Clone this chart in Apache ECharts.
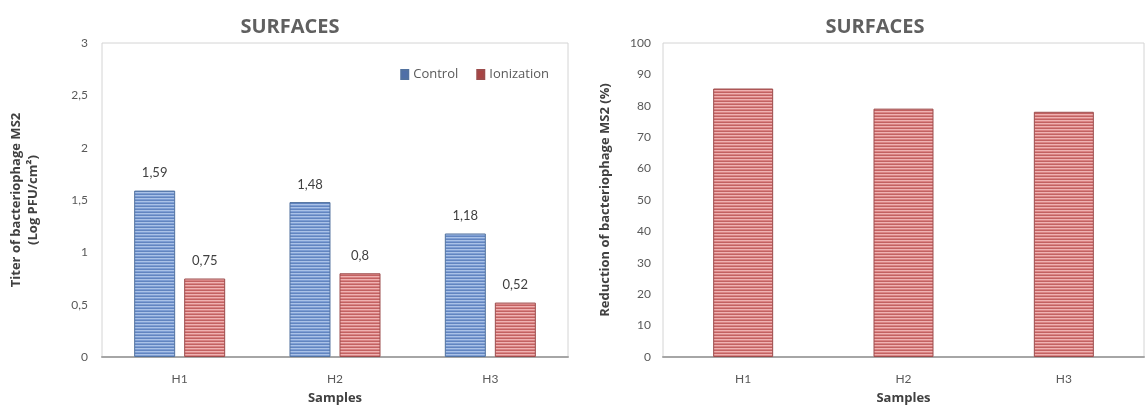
<!DOCTYPE html>
<html>
<head>
<meta charset="utf-8">
<script src="https://cdn.jsdelivr.net/npm/echarts@6/dist/echarts.min.js"></script>
<style>
html,body{margin:0;padding:0;background:#fff;}
#c{width:1146px;height:410px;}
</style>
</head>
<body>
<div id="c"></div>
<script>
// ---- data ----
const categories = ['H1', 'H2', 'H3'];
const controlValues = [1.59, 1.48, 1.18];
const ionizationValues = [0.75, 0.8, 0.52];
const reductionValues = [85.5, 79.1, 78.1];
const leftTickLabels = ['0', '0,5', '1', '1,5', '2', '2,5', '3'];
const rightTickLabels = ['0', '10', '20', '30', '40', '50', '60', '70', '80', '90', '100'];
const chartTitles = ['SURFACES', 'SURFACES'];
const seriesNames = ['Control', 'Ionization'];

// ---- stripe patterns ----
function stripe(colors) {
  const cv = document.createElement('canvas');
  cv.width = 4; cv.height = colors.length;
  const ctx = cv.getContext('2d');
  colors.forEach((c, i) => { ctx.fillStyle = c; ctx.fillRect(0, i, 4, 1); });
  return { image: cv, repeat: 'repeat' };
}
const bluePattern = stripe(['#aac2e7', '#7e9ed4', '#6285c0']);
const redPattern = stripe(['#efb2b2', '#da8484', '#c26262']);

const FONT = 'Lato';
const NAMEFONT = 'Open Sans';
const chart = echarts.init(document.getElementById('c'), null, { renderer: 'canvas' });
const lightGrey = '#595959';

chart.setOption({
  animation: false,
  textStyle: { fontFamily: FONT },
  title: [
    { text: chartTitles[0], left: 285, top: 12, textAlign: 'center',
      textStyle: { fontFamily: NAMEFONT, fontWeight: 'bold', fontSize: 20, color: '#606060' } },
    { text: chartTitles[1], left: 870, top: 12, textAlign: 'center',
      textStyle: { fontFamily: NAMEFONT, fontWeight: 'bold', fontSize: 20, color: '#606060' } }
  ],
  legend: {
    right: 592, top: 63, itemWidth: 7, itemHeight: 9, itemGap: 18,
    textStyle: { fontFamily: NAMEFONT, fontSize: 13, color: lightGrey },
    data: [
      { name: seriesNames[0], icon: 'rect', itemStyle: { color: '#4f6fa8' } },
      { name: seriesNames[1], icon: 'rect', itemStyle: { color: '#a84444' } }
    ]
  },
  grid: [
    { left: 102, right: 578, top: 43, bottom: 52, show: true, borderColor: '#d4d4d4', borderWidth: 1 },
    { left: 663, right: 2, top: 43, bottom: 53, show: true, borderColor: '#d4d4d4', borderWidth: 1 }
  ],
  xAxis: [0, 1].map(i => ({
    type: 'category', gridIndex: i, data: categories,
    name: 'Samples', nameLocation: 'middle', nameGap: 35,
    nameTextStyle: { fontFamily: NAMEFONT, fontWeight: 'bold', fontSize: 13, color: '#404040' },
    axisLine: { show: true, lineStyle: { color: '#a6a6a6', width: 2 } },
    axisTick: { show: false },
    axisLabel: { margin: 16, fontSize: 12, color: lightGrey, fontFamily: FONT }
  })),
  yAxis: [
    {
      type: 'value', gridIndex: 0, min: 0, max: 3, interval: 0.5,
      name: 'Titer of bacteriophage MS2\n(Log PFU/cm²)', nameLocation: 'middle', nameGap: 60,
      nameTextStyle: { fontFamily: NAMEFONT, fontWeight: 'bold', fontSize: 13, color: '#404040', lineHeight: 17 },
      axisLine: { show: false }, axisTick: { show: false }, splitLine: { show: false },
      axisLabel: { margin: 14, fontSize: 12, color: lightGrey, fontFamily: FONT,
        formatter: v => leftTickLabels[Math.round(v / 0.5)] }
    },
    {
      type: 'value', gridIndex: 1, min: 0, max: 100, interval: 10,
      name: 'Reduction of bacteriophage MS2 (%)', nameLocation: 'middle', nameGap: 51,
      nameTextStyle: { fontFamily: NAMEFONT, fontWeight: 'bold', fontSize: 13, color: '#404040' },
      axisLine: { show: false }, axisTick: { show: false }, splitLine: { show: false },
      axisLabel: { margin: 12, fontSize: 12, color: lightGrey, fontFamily: FONT,
        formatter: v => rightTickLabels[Math.round(v / 10)] }
    }
  ],
  series: [
    {
      name: seriesNames[0], type: 'bar', xAxisIndex: 0, yAxisIndex: 0,
      data: controlValues, barWidth: 41, barGap: '22%',
      itemStyle: { color: bluePattern, borderColor: '#52729f', borderWidth: 1 },
      label: { show: true, position: 'top', distance: 11, fontSize: 13, color: '#404040', fontFamily: FONT,
        formatter: p => String(p.value).replace('.', ',') }
    },
    {
      name: seriesNames[1], type: 'bar', xAxisIndex: 0, yAxisIndex: 0,
      data: ionizationValues, barWidth: 41, barGap: '22%',
      itemStyle: { color: redPattern, borderColor: '#9c4c4c', borderWidth: 1 },
      label: { show: true, position: 'top', distance: 11, fontSize: 13, color: '#404040', fontFamily: FONT,
        formatter: p => String(p.value).replace('.', ',') }
    },
    {
      name: 'Reduction', type: 'bar', xAxisIndex: 1, yAxisIndex: 1,
      data: reductionValues, barWidth: 60,
      itemStyle: { color: redPattern, borderColor: '#9c4c4c', borderWidth: 1 }
    }
  ]
});
</script>
</body>
</html>
